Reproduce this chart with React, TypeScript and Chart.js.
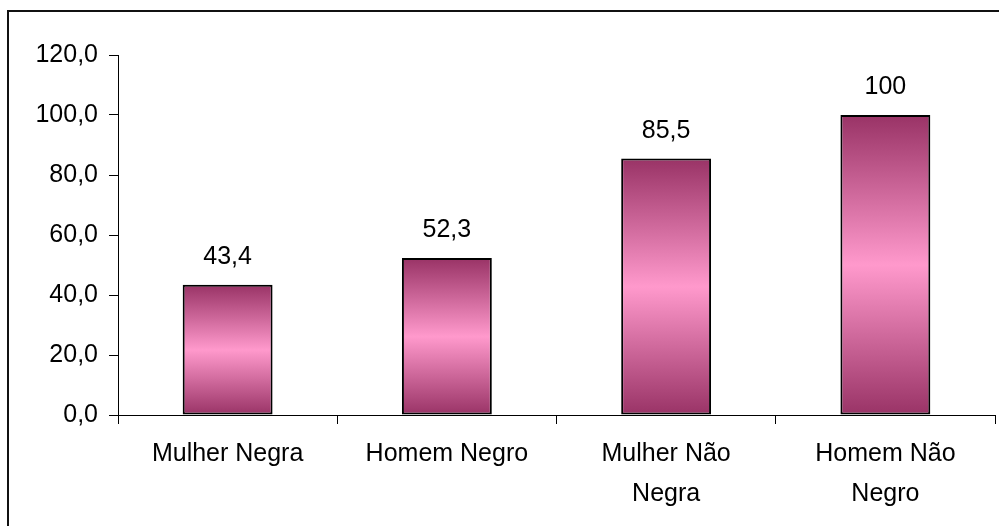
import React, { useEffect, useRef } from "react";
import { Chart, registerables } from "chart.js";

Chart.register(...registerables);

const categories: (string | string[])[] = [
  "Mulher Negra",
  "Homem Negro",
  ["Mulher Não", "Negra"],
  ["Homem Não", "Negro"],
];
const values: number[] = [43.4, 52.3, 85.5, 100];
const valueLabels: string[] = ["43,4", "52,3", "85,5", "100"];
const yTicks: number[] = [0, 20, 40, 60, 80, 100, 120];

const FONT = "Arial, 'Liberation Sans', sans-serif";

const frameAndLabels = {
  id: "frameAndLabels",
  beforeDraw(chart: any) {
    const ctx = chart.ctx;
    ctx.save();
    ctx.strokeStyle = "#111";
    ctx.lineWidth = 2;
    ctx.beginPath();
    ctx.moveTo(8, chart.height + 2);
    ctx.lineTo(8, 11);
    ctx.lineTo(chart.width + 2, 11);
    ctx.stroke();
    ctx.restore();
  },
  afterDatasetsDraw(chart: any) {
    const ctx = chart.ctx;
    const meta = chart.getDatasetMeta(0);
    ctx.save();
    ctx.fillStyle = "#000";
    ctx.font = `25px ${FONT}`;
    ctx.textAlign = "center";
    ctx.textBaseline = "alphabetic";
    meta.data.forEach((bar: any, i: number) => {
      ctx.fillText(valueLabels[i], bar.x, bar.y - 21);
    });
    ctx.restore();
  },
};

export default function App() {
  const ref = useRef<HTMLCanvasElement | null>(null);

  useEffect(() => {
    if (!ref.current) return;
    const chart = new Chart(ref.current, {
      type: "bar",
      data: {
        labels: categories,
        datasets: [
          {
            data: values,
            backgroundColor: (c: any) => {
              const ch = c.chart;
              if (!ch.chartArea || c.dataIndex === undefined) return "#CC6699";
              const ys = ch.scales.y;
              const v = values[c.dataIndex];
              const top = ys.getPixelForValue(v);
              const bottom = ys.getPixelForValue(0);
              const g = ch.ctx.createLinearGradient(0, top, 0, bottom);
              g.addColorStop(0, "#993366");
              g.addColorStop(0.5, "#FF99CC");
              g.addColorStop(1, "#993366");
              return g;
            },
            borderColor: "#000",
            borderWidth: 2,
            borderSkipped: false,
            categoryPercentage: 1,
            barPercentage: 0.41,
          },
        ],
      },
      options: {
        animation: false,
        responsive: true,
        maintainAspectRatio: false,
        layout: { padding: { top: 55, right: 4, left: 0, bottom: 0 } },
        plugins: {
          legend: { display: false },
          tooltip: { enabled: false },
          title: { display: false },
        },
        scales: {
          x: {
            offset: true,
            grid: {
              offset: true,
              drawOnChartArea: false,
              drawTicks: true,
              tickLength: 9,
              color: "#000",
            },
            border: { color: "#000", width: 1 },
            ticks: {
              color: "#000",
              font: { size: 25, family: FONT, lineHeight: 1.6 },
              padding: 10,
              maxRotation: 0,
              autoSkip: false,
            },
            afterFit: (s: any) => {
              s.height = 111;
            },
          },
          y: {
            min: 0,
            max: 120,
            afterBuildTicks: (s: any) => {
              s.ticks = yTicks.map((v) => ({ value: v }));
            },
            grid: {
              drawOnChartArea: false,
              drawTicks: true,
              tickLength: 9,
              color: "#000",
            },
            border: { color: "#000", width: 1 },
            ticks: {
              color: "#000",
              font: { size: 25, family: FONT },
              padding: 11,
              callback: (v: any) => Number(v).toFixed(1).replace(".", ","),
            },
            afterFit: (s: any) => {
              s.width = 118;
            },
          },
        },
      },
      plugins: [frameAndLabels],
    });
    return () => chart.destroy();
  }, []);

  return (
    <div
      style={{
        position: "fixed",
        left: 0,
        top: 0,
        width: 999,
        height: 526,
        background: "#fff",
      }}
    >
      <canvas ref={ref} />
    </div>
  );
}
